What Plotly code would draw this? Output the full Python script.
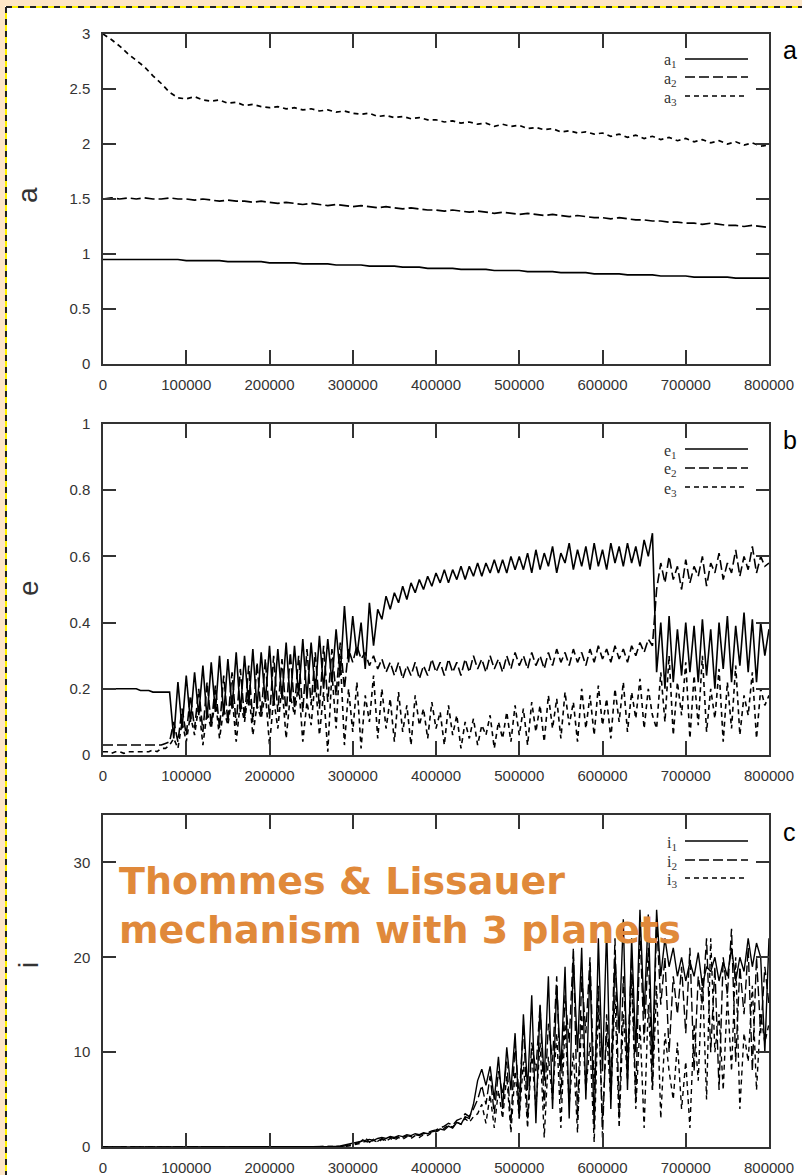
import plotly.graph_objects as go

# ---------------- data ----------------
t_a = list(range(0, 800001, 10000))   # time samples for panel a
t_e = list(range(0, 800001, 5000))    # time samples for panels b, c

a1 = [0.95,0.95,0.95,0.95,0.95,0.95,0.95,0.95,0.95,0.95,0.94,
      0.94,0.94,0.94,0.94,0.93,0.93,0.93,0.93,0.93,0.92,
      0.92,0.92,0.92,0.91,0.91,0.91,0.91,0.90,0.90,0.90,
      0.90,0.89,0.89,0.89,0.89,0.88,0.88,0.88,0.87,0.87,
      0.87,0.87,0.86,0.86,0.86,0.86,0.85,0.85,0.85,0.85,
      0.84,0.84,0.84,0.84,0.83,0.83,0.83,0.83,0.82,0.82,
      0.82,0.82,0.81,0.81,0.81,0.81,0.80,0.80,0.80,0.80,
      0.79,0.79,0.79,0.79,0.79,0.78,0.78,0.78,0.78,0.78]
a2 = [1.50,1.51,1.50,1.51,1.50,1.51,1.50,1.50,1.51,1.50,1.50,
      1.49,1.50,1.49,1.48,1.49,1.48,1.48,1.47,1.48,1.47,
      1.46,1.47,1.46,1.45,1.46,1.45,1.44,1.45,1.44,1.43,
      1.44,1.43,1.42,1.43,1.42,1.41,1.42,1.41,1.40,1.40,
      1.39,1.40,1.39,1.38,1.39,1.38,1.37,1.38,1.37,1.36,
      1.37,1.36,1.35,1.36,1.35,1.34,1.35,1.34,1.33,1.33,
      1.32,1.33,1.32,1.31,1.31,1.30,1.30,1.29,1.29,1.28,
      1.28,1.27,1.28,1.27,1.26,1.26,1.25,1.26,1.25,1.24]
a3 = [3.00,2.95,2.89,2.82,2.76,2.70,2.62,2.55,2.47,2.42,2.41,
      2.43,2.40,2.39,2.40,2.37,2.38,2.35,2.36,2.34,2.33,
      2.34,2.32,2.33,2.31,2.32,2.30,2.31,2.29,2.30,2.28,
      2.27,2.28,2.25,2.26,2.24,2.25,2.23,2.24,2.22,2.22,
      2.20,2.21,2.19,2.20,2.18,2.19,2.16,2.18,2.16,2.17,
      2.14,2.15,2.13,2.14,2.11,2.12,2.10,2.11,2.09,2.10,
      2.07,2.09,2.06,2.08,2.05,2.07,2.04,2.06,2.03,2.05,
      2.02,2.04,2.01,2.03,2.00,2.02,1.99,2.01,1.98,1.99]

e1 = [0.20,0.20,0.20,0.20,0.20,0.20,0.20,0.20,0.20,0.195,
      0.195,0.195,0.19,0.19,0.19,0.19,0.19,0.05,0.22,0.08,
      0.24,0.10,0.25,0.12,0.27,0.11,0.28,0.13,0.30,0.12,
      0.29,0.14,0.31,0.13,0.30,0.15,0.32,0.14,0.31,0.16,
      0.33,0.15,0.32,0.17,0.34,0.16,0.33,0.18,0.35,0.17,
      0.34,0.19,0.36,0.20,0.35,0.22,0.38,0.24,0.45,0.28,
      0.42,0.30,0.40,0.26,0.46,0.33,0.44,0.41,0.48,0.44,
      0.49,0.46,0.51,0.47,0.52,0.49,0.53,0.50,0.54,0.51,
      0.55,0.52,0.56,0.52,0.56,0.53,0.57,0.53,0.57,0.54,
      0.58,0.54,0.58,0.55,0.59,0.55,0.59,0.55,0.60,0.56,
      0.60,0.56,0.61,0.55,0.62,0.56,0.61,0.57,0.63,0.55,
      0.61,0.58,0.64,0.56,0.62,0.57,0.63,0.56,0.64,0.57,
      0.62,0.56,0.64,0.58,0.63,0.57,0.64,0.58,0.63,0.57,
      0.65,0.60,0.67,0.25,0.40,0.20,0.42,0.22,0.38,0.24,
      0.40,0.25,0.39,0.22,0.41,0.24,0.38,0.20,0.40,0.26,
      0.42,0.22,0.39,0.27,0.43,0.25,0.41,0.22,0.40,0.30,
      0.38]
e2 = [0.03,0.03,0.03,0.03,0.03,0.03,0.03,0.03,0.03,0.03,
      0.03,0.03,0.03,0.03,0.03,0.035,0.04,0.10,0.04,0.14,
      0.06,0.18,0.08,0.20,0.07,0.22,0.09,0.21,0.08,0.24,
      0.10,0.25,0.09,0.26,0.11,0.27,0.10,0.28,0.12,0.29,
      0.11,0.30,0.13,0.29,0.12,0.31,0.14,0.30,0.13,0.32,
      0.15,0.31,0.14,0.33,0.16,0.32,0.18,0.34,0.20,0.32,
      0.28,0.33,0.29,0.31,0.27,0.30,0.26,0.29,0.25,0.28,
      0.24,0.28,0.23,0.27,0.24,0.28,0.23,0.27,0.24,0.29,
      0.25,0.28,0.24,0.29,0.25,0.28,0.24,0.29,0.25,0.30,
      0.26,0.29,0.25,0.30,0.26,0.29,0.25,0.30,0.26,0.31,
      0.27,0.30,0.26,0.31,0.27,0.30,0.26,0.31,0.27,0.32,
      0.28,0.31,0.27,0.32,0.28,0.31,0.27,0.32,0.28,0.33,
      0.29,0.32,0.28,0.33,0.29,0.32,0.28,0.33,0.30,0.34,
      0.31,0.35,0.33,0.50,0.58,0.52,0.60,0.53,0.57,0.50,
      0.59,0.52,0.57,0.54,0.60,0.51,0.58,0.55,0.61,0.53,
      0.58,0.55,0.62,0.54,0.60,0.56,0.63,0.55,0.60,0.57,
      0.58]
e3 = [0.01,0.01,0.005,0.01,0.01,0.005,0.01,0.01,0.01,0.01,
      0.01,0.01,0.015,0.01,0.02,0.02,0.03,0.05,0.02,0.10,
      0.04,0.12,0.06,0.15,0.03,0.13,0.08,0.17,0.05,0.14,
      0.09,0.18,0.04,0.16,0.10,0.20,0.06,0.15,0.11,0.19,
      0.03,0.17,0.08,0.21,0.05,0.18,0.12,0.22,0.04,0.16,
      0.09,0.23,0.06,0.19,0.01,0.25,0.08,0.30,0.03,0.20,
      0.07,0.22,0.02,0.18,0.10,0.24,0.05,0.20,0.08,0.17,
      0.04,0.19,0.07,0.15,0.03,0.18,0.09,0.14,0.05,0.16,
      0.08,0.13,0.03,0.15,0.06,0.12,0.02,0.10,0.05,0.11,
      0.03,0.09,0.06,0.12,0.02,0.10,0.05,0.13,0.04,0.15,
      0.06,0.14,0.03,0.16,0.07,0.15,0.04,0.18,0.08,0.17,
      0.05,0.19,0.09,0.16,0.04,0.20,0.08,0.18,0.06,0.21,
      0.09,0.17,0.05,0.20,0.10,0.22,0.07,0.19,0.11,0.23,
      0.08,0.20,0.12,0.08,0.25,0.10,0.30,0.06,0.22,0.12,
      0.28,0.05,0.24,0.09,0.30,0.07,0.20,0.11,0.26,0.04,
      0.22,0.08,0.27,0.06,0.18,0.12,0.25,0.05,0.20,0.15,
      0.18]

i_zero = [0.0] * 56   # 0 .. 275000: all inclinations are zero
i1 = i_zero + [0.05,0.1,0.2,0.3,
      0.35,0.5,0.6,0.7,0.8,0.7,0.9,1.0,0.9,1.1,
      1.0,1.2,1.1,1.3,1.2,1.4,1.3,1.5,1.4,1.6,
      1.7,1.9,1.8,2.2,2.0,2.6,2.4,3.2,3.0,4.5,
      7.0,8.2,6.5,8.5,5.0,9.5,4.0,10.5,6.0,12.0,
      3.0,14.0,6.0,16.0,2.5,15.0,7.0,18.0,4.0,17.0,
      8.0,19.0,3.0,20.0,10.0,21.0,5.0,19.0,2.0,22.0,
      8.0,23.0,4.0,20.0,12.0,24.0,6.0,22.0,10.0,25.0,
      14.0,24.5,9.0,25.0,18.0,22.0,19.0,21.0,18.0,20.0,
      17.5,19.5,18.0,20.5,17.0,19.0,18.5,20.0,17.5,19.5,
      18.0,21.0,17.5,20.0,18.5,22.0,19.0,21.5,20.0,10.0,
      22.0]
i2 = i_zero + [0.0,0.05,0.1,0.2,
      0.3,0.4,0.6,1.0,0.5,0.8,0.6,0.9,0.7,1.0,
      0.9,1.1,1.0,1.2,1.1,1.3,1.2,1.4,1.5,1.7,
      1.8,2.0,2.2,2.5,2.3,2.8,3.0,3.5,3.2,4.0,
      5.0,6.5,4.5,7.5,3.5,8.0,5.5,9.0,2.5,11.0,
      5.0,13.0,3.0,11.0,8.0,15.0,4.0,13.0,9.0,18.0,
      5.0,16.0,11.0,21.0,3.0,18.0,12.0,20.0,6.0,17.0,
      1.0,14.0,7.0,22.0,3.0,18.0,9.0,20.0,5.0,23.0,
      11.0,21.0,6.0,24.0,15.0,20.0,10.0,18.0,14.0,19.0,
      12.0,21.0,8.0,18.0,15.0,22.0,10.0,19.0,6.0,20.0,
      16.0,23.0,9.0,19.0,14.0,21.0,8.0,20.0,12.0,19.0,
      15.0]
i3 = i_zero + [0.0,0.0,0.05,0.1,
      0.2,0.3,0.4,0.6,0.5,0.7,0.5,0.8,0.6,0.9,
      0.7,1.0,0.8,1.1,0.9,1.2,1.0,1.3,1.2,1.5,
      1.6,1.8,2.0,2.3,2.1,2.6,2.4,3.0,2.6,3.2,
      3.5,4.5,2.5,5.5,2.0,6.0,3.0,7.5,1.5,8.0,
      3.0,9.0,2.0,10.0,4.0,11.0,1.0,9.5,5.0,12.0,
      2.0,13.0,4.5,10.0,1.5,14.0,6.0,11.0,0.5,15.0,
      3.0,12.0,5.0,16.0,2.0,14.0,7.0,18.0,4.0,13.0,
      2.0,15.0,6.0,17.0,3.0,12.0,8.0,5.0,11.0,4.0,
      9.0,2.0,13.0,7.0,18.0,5.0,22.0,10.0,14.0,6.0,
      16.0,8.0,20.0,4.0,12.0,9.0,17.0,6.0,14.0,11.0,
      13.0]

x_ticks = [0, 100000, 200000, 300000, 400000, 500000, 600000, 700000, 800000]
x_ticklabels = [str(v) for v in x_ticks]
panel_letters = ["a", "b", "c"]
axis_names = ["a", "e", "i"]
legend_labels = [["a<sub>1</sub>", "a<sub>2</sub>", "a<sub>3</sub>"],
                 ["e<sub>1</sub>", "e<sub>2</sub>", "e<sub>3</sub>"],
                 ["i<sub>1</sub>", "i<sub>2</sub>", "i<sub>3</sub>"]]
title_text = "Thommes & Lissauer<br>mechanism with 3 planets"

# ---------------- layout helpers ----------------
W, H = 802, 1175
L, R, T, B = 103, 769, 34, 1147


def px2x(p):
    return (p - L) / (R - L)


def px2y(p):
    return (B - p) / (B - T)


dashes = ["solid", "10px,4px", "5px,4px"]
AX = "#333333"
tickfont = dict(family="Liberation Sans", size=15, color=AX)

fig = go.Figure()

series = [
    (t_a, [a1, a2, a3], "x", "y", 1.7),
    (t_e, [e1, e2, e3], "x2", "y2", 1.6),
    (t_e, [i1, i2, i3], "x3", "y3", 1.4),
]
for t, ys, xa, ya, lw in series:
    for k, y in enumerate(ys):
        fig.add_trace(go.Scatter(x=t, y=y, mode="lines", xaxis=xa, yaxis=ya,
                                 line=dict(color="black", width=lw, dash=dashes[k]),
                                 showlegend=False, hoverinfo="skip"))

panel_px = [(34, 364), (424, 755), (815, 1147)]
y_ranges = [[0, 3], [0, 1], [0, 35]]
y_ticks = [[0, 0.5, 1, 1.5, 2, 2.5, 3], [0, 0.2, 0.4, 0.6, 0.8, 1], [0, 10, 20, 30]]

layout = dict(width=W, height=H,
              margin=dict(l=L, r=W - R, t=T, b=H - B, pad=0, autoexpand=False),
              paper_bgcolor="white", plot_bgcolor="white", showlegend=False)

for n in range(3):
    sfx = "" if n == 0 else str(n + 1)
    top, bot = panel_px[n]
    layout["xaxis" + sfx] = dict(
        domain=[0, 1], anchor="y" + sfx, range=[0, 800000],
        tickvals=x_ticks, ticktext=x_ticklabels,
        showline=True, linecolor=AX, linewidth=1.5, mirror="ticks",
        ticks="inside", ticklen=14, tickwidth=1.5, tickcolor=AX,
        showgrid=False, zeroline=False, tickfont=tickfont, ticklabelstandoff=6)
    layout["yaxis" + sfx] = dict(
        domain=[px2y(bot), px2y(top)], anchor="x" + sfx, range=y_ranges[n],
        tickvals=y_ticks[n],
        showline=True, linecolor=AX, linewidth=1.5, mirror="ticks",
        ticks="inside", ticklen=13, tickwidth=1.5, tickcolor=AX,
        showgrid=False, zeroline=False, tickfont=tickfont, ticklabelstandoff=8)

annotations = []
shapes = []

# y axis names and panel letters
name_px = [195, 588, 965]
letter_px = [50, 440, 832]
for n in range(3):
    annotations.append(dict(xref="paper", yref="paper", x=px2x(28), y=px2y(name_px[n]),
                            text=axis_names[n], showarrow=False, textangle=-90,
                            font=dict(family="Liberation Sans", size=28, color=AX),
                            xanchor="center", yanchor="middle"))
    annotations.append(dict(xref="paper", yref="paper", x=px2x(790), y=px2y(letter_px[n]),
                            text=panel_letters[n], showarrow=False,
                            font=dict(family="Liberation Sans", size=25, color="black"),
                            xanchor="center", yanchor="middle"))

# legends (key text on the left, line sample on the right)
legend_rows = [[59, 77, 96], [449, 468, 487], [841, 860, 878]]
for n in range(3):
    for k in range(3):
        yy = legend_rows[n][k]
        annotations.append(dict(xref="paper", yref="paper", x=px2x(679), y=px2y(yy + 2),
                                text=legend_labels[n][k], showarrow=False,
                                font=dict(family="Liberation Serif", size=16, color=AX),
                                xanchor="right", yanchor="middle"))
        shapes.append(dict(type="line", xref="paper", yref="paper",
                           x0=px2x(685), x1=px2x(748), y0=px2y(yy), y1=px2y(yy),
                           line=dict(color="black", width=1.3, dash=dashes[k])))

# big overlaid title
annotations.append(dict(xref="paper", yref="paper", x=px2x(117), y=px2y(905),
                        text=title_text, showarrow=False, align="left",
                        font=dict(family="DejaVu Sans", size=38, color="#E0893A", weight="bold"),
                        xanchor="left", yanchor="middle"))

# page decoration: light orange strips and dashed yellow/black border
strip = "#FDE6C6"
shapes.append(dict(type="rect", xref="paper", yref="paper", layer="above",
                   x0=px2x(-2), x1=px2x(W + 2), y0=px2y(-2), y1=px2y(6),
                   fillcolor=strip, line=dict(width=0)))
shapes.append(dict(type="rect", xref="paper", yref="paper", layer="above",
                   x0=px2x(-2), x1=px2x(5), y0=px2y(-2), y1=px2y(H + 2),
                   fillcolor=strip, line=dict(width=0)))
for col, dsh in [("#FFF200", "solid"), ("#222222", "6px,6px")]:
    shapes.append(dict(type="line", xref="paper", yref="paper", layer="above",
                       x0=px2x(6), x1=px2x(W + 2), y0=px2y(7), y1=px2y(7),
                       line=dict(color=col, width=2, dash=dsh)))
    shapes.append(dict(type="line", xref="paper", yref="paper", layer="above",
                       x0=px2x(6), x1=px2x(6), y0=px2y(7), y1=px2y(H + 2),
                       line=dict(color=col, width=2, dash=dsh)))

layout["annotations"] = annotations
layout["shapes"] = shapes
fig.update_layout(**layout)

fig.write_html("out.html")
